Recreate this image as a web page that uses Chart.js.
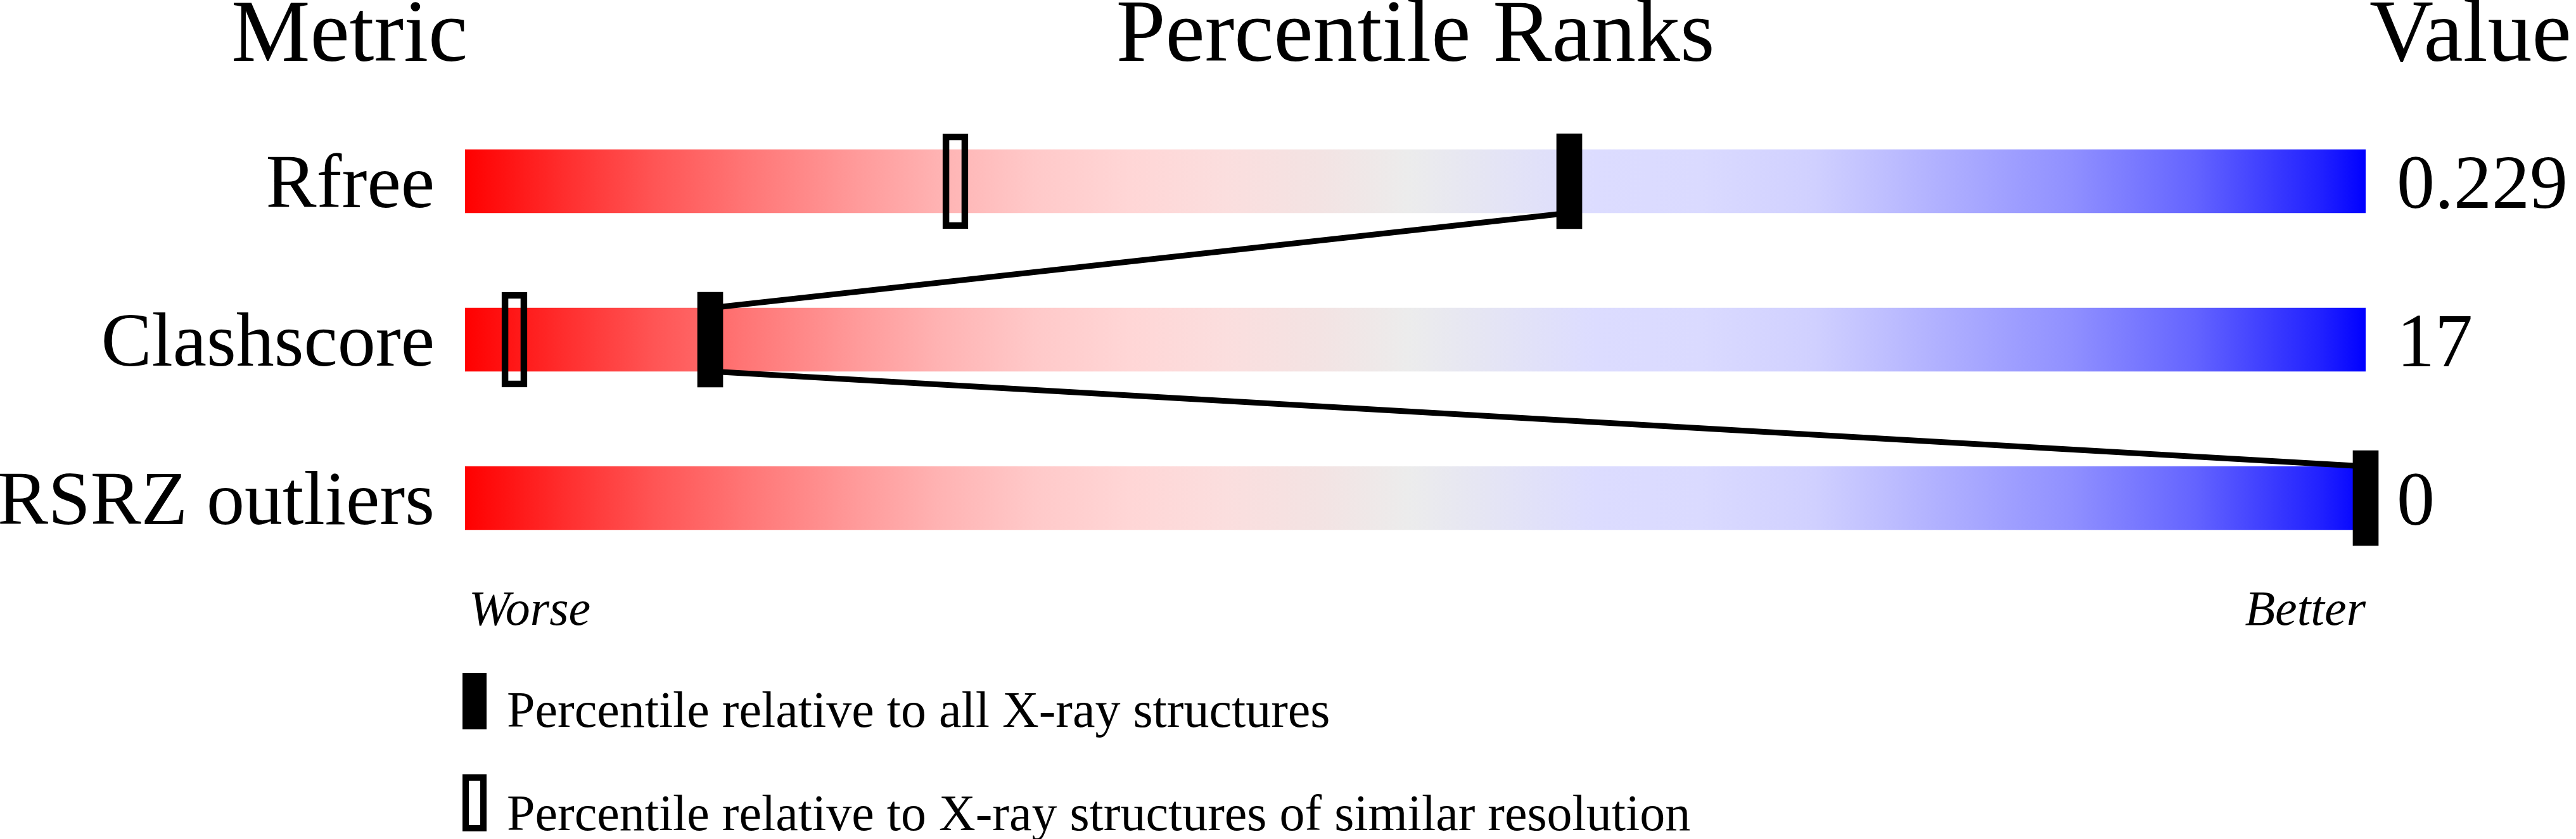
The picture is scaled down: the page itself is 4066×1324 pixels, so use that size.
<!DOCTYPE html>
<html>
<head>
<meta charset="utf-8">
<title>Percentile Ranks</title>
<script src="https://cdn.jsdelivr.net/npm/chart.js@4.4.1/dist/chart.umd.min.js"></script>
<style>
  html, body { margin: 0; padding: 0; background: #fff; }
  #wrap { width: 4066px; height: 1324px; }
</style>
</head>
<body>
<div id="wrap"><canvas id="sliderChart" width="4066" height="1324"></canvas></div>
<script>
const metricNames = ['Rfree', 'Clashscore', 'RSRZ outliers'];
const metricValues = ['0.229', '17', '0'];
const pctAllXray = [58.1, 12.9, 100];      // filled marker
const pctSimilarRes = [25.8, 2.6, null];   // open marker, none shown for RSRZ
const headers = ['Metric', 'Percentile Ranks', 'Value'];
const scaleEnds = ['Worse', 'Better'];
const legendLabels = [
  'Percentile relative to all X-ray structures',
  'Percentile relative to X-ray structures of similar resolution'
];

const serif = "'Liberation Serif', 'Times New Roman', serif";
const BAR_HALF = 0.2;     // half height of the coloured bar, in row units
const MARK_HALF = 0.667;  // half width of a marker, in percentile units

// red -> grey -> blue
const gradStops = [
  [0.00, '#ff0000'],
  [0.055, '#ff3030'],
  [0.10, '#ff5555'],
  [0.15, '#ff7777'],
  [0.206, '#ff9a9a'],
  [0.25, '#ffb3b3'],
  [0.30, '#ffc9c9'],
  [0.35, '#ffd6d6'],
  [0.40, '#fbdede'],
  [0.45, '#f3e3e3'],
  [0.496, '#ececec'],
  [0.55, '#e3e3f6'],
  [0.595, '#dcdcff'],
  [0.65, '#dadaff'],
  [0.71, '#d0d0ff'],
  [0.78, '#aeaeff'],
  [0.845, '#9090ff'],
  [0.91, '#6464ff'],
  [0.977, '#2020ff'],
  [1.00, '#0000ff']
];

function sliderGradient(context) {
  const area = context.chart.chartArea;
  if (!area) return '#eeeeee';
  const g = context.chart.ctx.createLinearGradient(area.left, 0, area.right, 0);
  gradStops.forEach(s => g.addColorStop(s[0], s[1]));
  return g;
}

// coloured bars, one per metric
const barData = metricNames.map((m, i) => ({ x: [0, 100], y: i }));

// markers as thin floating bars
const filledData = pctAllXray.map((p, i) => ({ x: [p - MARK_HALF, p + MARK_HALF], y: i }));
const openData = pctSimilarRes
  .map((p, i) => p === null ? null : ({ x: [p - MARK_HALF, p + MARK_HALF], y: i }))
  .filter(d => d !== null);

// line joining the filled markers, bottom of one bar to top of the next
const joinData = [];
for (let i = 0; i < pctAllXray.length - 1; i++) {
  joinData.push({ x: pctAllXray[i], y: i + BAR_HALF });
  joinData.push({ x: pctAllXray[i + 1], y: i + 1 - BAR_HALF });
}

// header, worse/better and legend text
const sliderText = {
  id: 'sliderText',
  afterDraw(chart) {
    const ctx = chart.ctx;
    const area = chart.chartArea;
    ctx.save();
    ctx.fillStyle = '#000';
    ctx.strokeStyle = '#000';
    ctx.textBaseline = 'alphabetic';

    ctx.font = '140px ' + serif;
    ctx.textAlign = 'left';
    ctx.fillText(headers[0], 365, 96);
    ctx.textAlign = 'center';
    ctx.fillText(headers[1], (area.left + area.right) / 2, 96);
    ctx.textAlign = 'left';
    ctx.fillText(headers[2], 3740, 96);

    ctx.font = 'italic 78px ' + serif;
    ctx.textAlign = 'left';
    ctx.fillText(scaleEnds[0], area.left + 6, 986);
    ctx.textAlign = 'right';
    ctx.fillText(scaleEnds[1], area.right, 986);

    // legend
    ctx.font = '80px ' + serif;
    ctx.textAlign = 'left';
    ctx.fillRect(730, 1062, 38, 89);
    ctx.fillText(legendLabels[0], 800, 1147);
    ctx.lineWidth = 10;
    ctx.strokeRect(735, 1227, 28, 80);
    ctx.fillText(legendLabels[1], 800, 1310);
    ctx.restore();
  }
};

const rowTicks = scale => { scale.ticks = metricNames.map((m, i) => ({ value: i })); };
// fixed side columns, no extra room for the labels above/below
const fixWidth = w => scale => {
  scale.width = w;
  scale.paddingTop = 0;
  scale.paddingBottom = 0;
};

new Chart(document.getElementById('sliderChart'), {
  type: 'bar',
  data: {
    datasets: [
      {
        label: 'filled',
        data: filledData,
        backgroundColor: '#000',
        borderWidth: 0,
        barThickness: 150,
        clip: false,
        order: 1
      },
      {
        label: 'open',
        data: openData,
        backgroundColor: 'rgba(0,0,0,0)',
        borderColor: '#000',
        borderWidth: 10,
        borderSkipped: false,
        barThickness: 150,
        clip: false,
        order: 1
      },
      {
        type: 'line',
        label: 'join',
        data: joinData,
        borderColor: '#000',
        borderWidth: 9,
        pointRadius: 0,
        tension: 0,
        fill: false,
        clip: false,
        order: 2
      },
      {
        label: 'range',
        data: barData,
        backgroundColor: sliderGradient,
        borderWidth: 0,
        barThickness: 100,
        order: 3
      }
    ]
  },
  options: {
    indexAxis: 'y',
    responsive: false,
    animation: false,
    grouped: false,
    layout: { padding: { top: 161, bottom: 413, left: 0, right: 0 } },
    scales: {
      x: { type: 'linear', min: 0, max: 100, display: false },
      y: {
        type: 'linear', min: -0.5, max: 2.5, reverse: true,
        offset: false,
        position: 'left',
        grid: { display: false, drawTicks: false },
        border: { display: false },
        afterBuildTicks: rowTicks,
        afterFit: fixWidth(734),
        ticks: {
          padding: 48,
          labelOffset: 9,
          color: '#000',
          font: { family: serif, size: 120 },
          callback: v => metricNames[v] ?? ''
        }
      },
      y2: {
        type: 'linear', min: -0.5, max: 2.5, reverse: true,
        offset: false,
        position: 'right',
        grid: { display: false, drawTicks: false },
        border: { display: false },
        afterBuildTicks: rowTicks,
        afterFit: fixWidth(332),
        ticks: {
          padding: 49,
          labelOffset: 10,
          color: '#000',
          font: { family: serif, size: 120 },
          callback: v => metricValues[v] ?? ''
        }
      }
    },
    plugins: {
      legend: { display: false },
      tooltip: { enabled: false }
    }
  },
  plugins: [sliderText]
});
</script>
</body>
</html>
